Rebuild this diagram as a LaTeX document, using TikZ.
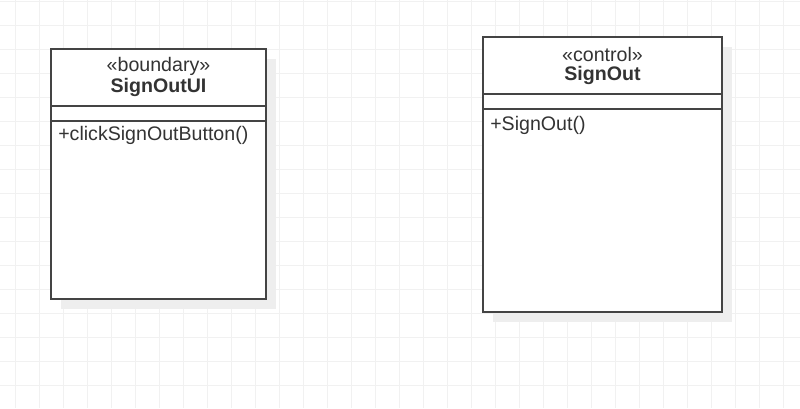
\documentclass[tikz,border=0pt]{standalone}
\usepackage{fontspec}
\setmainfont{Liberation Sans}
\definecolor{gridline}{HTML}{F1F1F1}
\definecolor{boxshadow}{HTML}{EEEEEE}
\definecolor{boxedge}{HTML}{444444}
\definecolor{umltext}{HTML}{333333}
\begin{document}
\begin{tikzpicture}[x=0.75pt,y=-0.75pt, every node/.style={font=\fontsize{14.7}{17}\selectfont, text=umltext, inner sep=0pt}]
 \useasboundingbox (0,0) rectangle (800,408);
 \fill[white] (0,0) rectangle (800,408);
 % background grid
 \foreach \x in {15,39,...,800} \draw[gridline, line width=0.7pt] (\x,0)--(\x,408);
 \foreach \y in {1,25,...,408} \draw[gridline, line width=0.7pt] (0,\y)--(800,\y);
 % class boxes: left/top/right/bottom/first divider/second divider
 \foreach \l/\t/\r/\b/\da/\db in {51/49/266/299/106/121, 483/37/722/312/94/109} {
   \fill[boxshadow] (\l+10,\t+10) rectangle (\r+10,\b+10);
   \draw[boxedge, fill=white, line width=1.1pt] (\l,\t) rectangle (\r,\b);
   \draw[boxedge, line width=1.1pt] (\l,\da)--(\r,\da);
   \draw[boxedge, line width=1.1pt] (\l,\db)--(\r,\db);
 }
 \node (uiStereo) at (158.5,66) {«boundary»};
 \node[font=\fontsize{14.7}{17}\selectfont\bfseries] (uiName) at (158.5,87) {SignOutUI};
 \node[anchor=west] (uiOp) at (58,135) {+clickSignOutButton()};
 \node (ctlStereo) at (602.5,54) {«control»};
 \node[font=\fontsize{14.7}{17}\selectfont\bfseries] (ctlName) at (602.5,75) {SignOut};
 \node[anchor=west] (ctlOp) at (490,125) {+SignOut()};
\end{tikzpicture}
\end{document}
